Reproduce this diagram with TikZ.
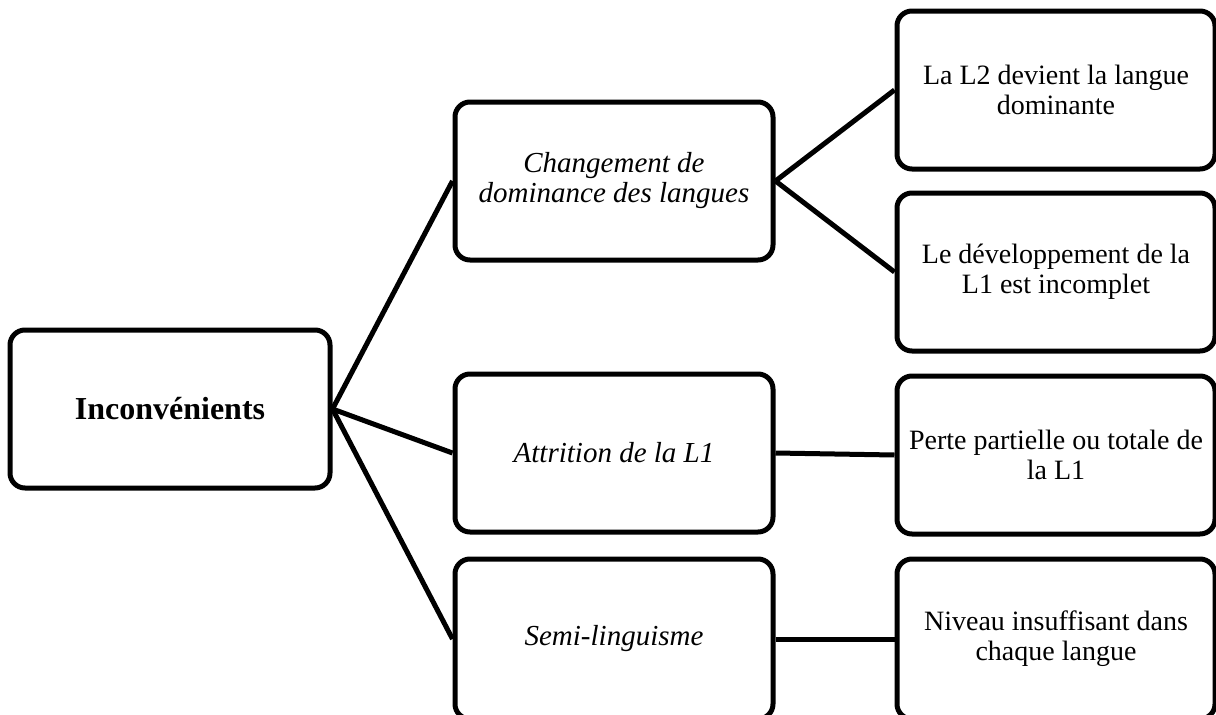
\documentclass[tikz,border=0pt]{standalone}
\usepackage{fontspec}
\setmainfont{Liberation Serif}
\begin{document}
\begin{tikzpicture}[x=1pt,y=-1pt,node distance=442pt]
\tikzstyle{box} = [rectangle, rounded corners=15pt, minimum width=318pt, minimum height=158pt, align=center, draw=black, line width=5pt, inner sep=0pt, font=\fontsize{28}{30}\selectfont]
\tikzstyle{midbox} = [box, font=\fontsize{29}{30}\selectfont\itshape]
\tikzstyle{link} = [line width=5pt]
\useasboundingbox (0,0) rectangle (1216,715);
\node (root)[box, minimum width=320pt, font=\fontsize{32}{34}\selectfont\bfseries] at (170,409) {Inconvénients};
\node (chg)[midbox] at (614,181) {Changement de\\dominance des langues};
\node (att)[midbox] at (614,453) {Attrition de la L1};
\node (semi)[midbox, minimum height=160pt] at (614,639) {Semi-linguisme};
\node (l2)[box, right of=chg, yshift=91pt] {La L2 devient la langue\\dominante};
\node (dev)[box, right of=chg, yshift=-91pt] {Le développement de la\\L1 est incomplet};
\node (perte)[box, right of=att, yshift=-2pt] {Perte partielle ou totale de\\la L1};
\node (niv)[box, right of=semi, minimum height=160pt] {Niveau insuffisant dans\\chaque langue};
\draw [link] (root.east) -- (chg.west);
\draw [link] (root.east) -- (att.west);
\draw [link] (root.east) -- (semi.west);
\draw [link] (chg.east) -- (l2.west);
\draw [link] (chg.east) -- (dev.west);
\draw [link] (att.east) -- (perte.west);
\draw [link] (semi.east) -- (niv.west);
\end{tikzpicture}
\end{document}
